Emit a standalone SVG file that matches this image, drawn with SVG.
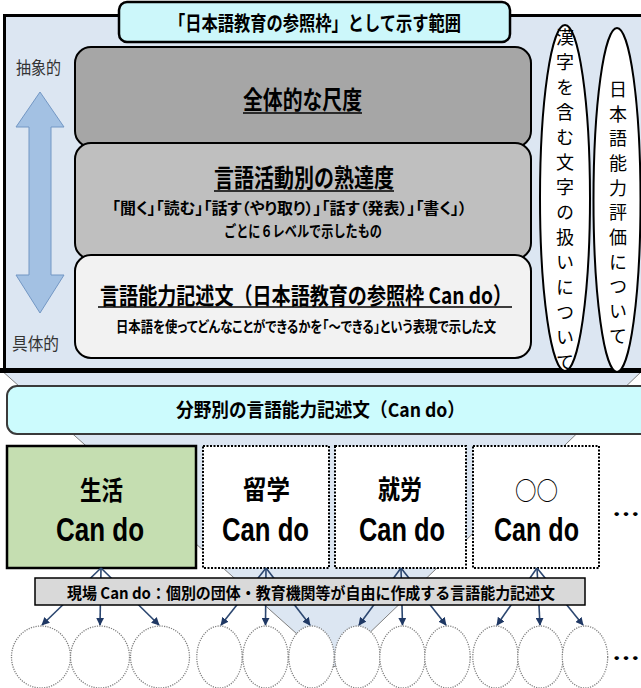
<svg xmlns="http://www.w3.org/2000/svg" width="641" height="688" viewBox="0 0 641 688">
<defs>
<style>
text{font-family:"Noto Sans CJK JP","Noto Sans",sans-serif;fill:#000;dominant-baseline:central;}
.b{font-weight:bold;}
.side{font-size:17px;fill:#333;}
.vt{font-size:18px;writing-mode:vertical-rl;letter-spacing:7px;}
.nm{font-size:26px;font-weight:bold;}
.cd{font-family:"Liberation Sans Narrow","Liberation Sans",sans-serif;font-size:33px;font-weight:bold;}
.dot{fill:#fff;stroke:#000;stroke-width:2;stroke-dasharray:2 1.5;}
.circ{fill:#fff;stroke:#808080;stroke-width:1.3;stroke-dasharray:1.2 1.2;}
.con{stroke:#2c4770;stroke-width:1.6;fill:none;marker-end:url(#ah);}
.ul{stroke:#000;stroke-width:1.6;}
</style>
<marker id="ah" viewBox="0 0 10 10" refX="9" refY="5" markerWidth="5" markerHeight="5" orient="auto" markerUnits="strokeWidth">
<path d="M0,0 L10,5 L0,10 z" fill="#1f3864"/>
</marker>
</defs>

<g id="background-triangle">
<polygon points="1,370 643,370 334,667" fill="#dce6f2" stroke="#7f7f7f" stroke-width="1"/>
</g>

<g id="frame">
<rect x="4.5" y="15.5" width="660" height="354" fill="#dce6f2" stroke="#000" stroke-width="3"/>
<line x1="0" y1="370.5" x2="641" y2="370.5" stroke="#000" stroke-width="5"/>
</g>

<g id="title">
<rect x="119" y="2" width="391" height="40" rx="8" fill="#ccf7fa" stroke="#000" stroke-width="2.5"/>
<text class="b" x="169" y="22" font-size="20" textLength="292" lengthAdjust="spacingAndGlyphs">「日本語教育の参照枠」として示す範囲</text>
</g>

<g id="axis">
<text class="side" x="16" y="66" textLength="45" lengthAdjust="spacingAndGlyphs">抽象的</text>
<polygon points="40,92 64,127 51,127 51,275 64,275 40,313 16,275 29,275 29,127 16,127" fill="#a3c1e3" stroke="#7397c4" stroke-width="1"/>
<text class="side" x="12" y="342" textLength="47" lengthAdjust="spacingAndGlyphs">具体的</text>
</g>

<g id="scale-global">
<rect x="75" y="47" width="456" height="100" rx="16" fill="#a6a6a6" stroke="#000" stroke-width="2"/>
<text class="b" x="243" y="98" font-size="25" textLength="119" lengthAdjust="spacingAndGlyphs">全体的な尺度</text>
<line class="ul" x1="243" y1="113" x2="362" y2="113"/>
</g>

<g id="scale-activity">
<rect x="75" y="143" width="456" height="116" rx="16" fill="#bfbfbf" stroke="#000" stroke-width="2"/>
<text class="b" x="214" y="176" font-size="25" textLength="180" lengthAdjust="spacingAndGlyphs">言語活動別の熟達度</text>
<line class="ul" x1="214" y1="191" x2="394" y2="191"/>
<text class="b" x="112" y="207" font-size="15.5" textLength="355" lengthAdjust="spacingAndGlyphs" style="font-feature-settings:'palt'">「聞く」「読む」「話す（やり取り）」「話す（発表）」「書く」）</text>
<text class="b" x="224" y="230" font-size="15.5" textLength="158" lengthAdjust="spacingAndGlyphs">ごとに６レベルで示したもの</text>
</g>

<g id="scale-cando">
<rect x="75" y="255" width="456" height="103" rx="16" fill="#f2f2f2" stroke="#000" stroke-width="2"/>
<text class="b" x="100" y="294" font-size="23" textLength="412" lengthAdjust="spacingAndGlyphs">言語能力記述文（日本語教育の参照枠 Can do）</text>
<line class="ul" x1="98" y1="307" x2="512" y2="307"/>
<text class="b" x="116" y="325" font-size="15" textLength="380" lengthAdjust="spacingAndGlyphs" style="font-feature-settings:'palt'">日本語を使ってどんなことができるかを「～できる」という表現で示した文</text>
</g>

<g id="oval-kanji">
<ellipse cx="565" cy="198" rx="25" ry="173" fill="#fff" stroke="#000" stroke-width="2"/>
<text class="vt" x="565" y="28">漢字を含む文字の扱いについて</text>
</g>

<g id="oval-eval">
<ellipse cx="617" cy="200" rx="23.5" ry="172" fill="#fff" stroke="#000" stroke-width="2"/>
<text class="vt" x="618" y="80" style="letter-spacing:6.7px">日本語能力評価について</text>
</g>

<g id="field-cando">
<rect x="7" y="386" width="660" height="48" rx="10" fill="#ccfbfd" stroke="#3a3a3a" stroke-width="2"/>
<text class="b" x="176" y="408" font-size="19" textLength="289" lengthAdjust="spacingAndGlyphs">分野別の言語能力記述文（Can do）</text>
</g>

<g id="cando-life">
<rect x="7" y="446" width="189" height="122" fill="#c5deb1" stroke="#000" stroke-width="2.5"/>
<text class="nm" x="80" y="488" textLength="43" lengthAdjust="spacingAndGlyphs">生活</text>
<text class="cd" x="56" y="529" textLength="88" lengthAdjust="spacingAndGlyphs">Can do</text>
</g>

<g id="cando-study">
<rect class="dot" x="203" y="446" width="126" height="122"/>
<text class="nm" x="243" y="487" textLength="47" lengthAdjust="spacingAndGlyphs">留学</text>
<text class="cd" x="222" y="529" textLength="87" lengthAdjust="spacingAndGlyphs">Can do</text>
</g>

<g id="cando-work">
<rect class="dot" x="335" y="446" width="131" height="122"/>
<text class="nm" x="378" y="487" textLength="44" lengthAdjust="spacingAndGlyphs">就労</text>
<text class="cd" x="359" y="529" textLength="86" lengthAdjust="spacingAndGlyphs">Can do</text>
</g>

<g id="cando-other">
<rect class="dot" x="473" y="446" width="126" height="122"/>
<text x="515" y="489" font-size="25" textLength="43" lengthAdjust="spacingAndGlyphs" fill="#555">○○</text>
<text class="cd" x="494" y="529" textLength="85" lengthAdjust="spacingAndGlyphs">Can do</text>
</g>

<g id="more-fields">
<text class="b" x="612" y="512" font-size="24" font-family="Liberation Sans, sans-serif" textLength="28" lengthAdjust="spacingAndGlyphs">…</text>
</g>

<g id="local-circles">
<ellipse class="circ" cx="41" cy="657" rx="29.5" ry="31"/>
<ellipse class="circ" cx="100" cy="657" rx="29.5" ry="31"/>
<ellipse class="circ" cx="160" cy="657" rx="29.5" ry="31"/>
<ellipse class="circ" cx="219.5" cy="657" rx="22.7" ry="31"/>
<ellipse class="circ" cx="265.5" cy="657" rx="22.7" ry="31"/>
<ellipse class="circ" cx="311.5" cy="657" rx="22.7" ry="31"/>
<ellipse class="circ" cx="357.5" cy="657" rx="22.7" ry="31"/>
<ellipse class="circ" cx="402.5" cy="657" rx="22.7" ry="31"/>
<ellipse class="circ" cx="447.5" cy="657" rx="22.7" ry="31"/>
<ellipse class="circ" cx="495.5" cy="657" rx="22.7" ry="31"/>
<ellipse class="circ" cx="540.5" cy="657" rx="22.7" ry="31"/>
<ellipse class="circ" cx="585" cy="657" rx="22.7" ry="31"/>
</g>

<g id="more-local">
<text class="b" x="612" y="656" font-size="24" font-family="Liberation Sans, sans-serif" textLength="28" lengthAdjust="spacingAndGlyphs">…</text>
</g>

<g id="connectors">
<line class="con" x1="101" y1="568" x2="42" y2="625"/>
<line class="con" x1="101" y1="568" x2="100" y2="625"/>
<line class="con" x1="101" y1="568" x2="159" y2="625"/>
<line class="con" x1="266" y1="568" x2="221" y2="625"/>
<line class="con" x1="266" y1="568" x2="265.5" y2="625"/>
<line class="con" x1="266" y1="568" x2="310" y2="625"/>
<line class="con" x1="401" y1="568" x2="359" y2="625"/>
<line class="con" x1="401" y1="568" x2="402.5" y2="625"/>
<line class="con" x1="401" y1="568" x2="446" y2="625"/>
<line class="con" x1="537" y1="568" x2="497" y2="625"/>
<line class="con" x1="537" y1="568" x2="540" y2="625"/>
<line class="con" x1="537" y1="568" x2="583" y2="625"/>
</g>

<g id="local-cando">
<rect x="35" y="578" width="550" height="27" fill="#d9d9d9" stroke="#000" stroke-width="1.5"/>
<text class="b" x="67" y="592" font-size="16" textLength="488" lengthAdjust="spacingAndGlyphs">現場 Can do：個別の団体・教育機関等が自由に作成する言語能力記述文</text>
</g>
</svg>
